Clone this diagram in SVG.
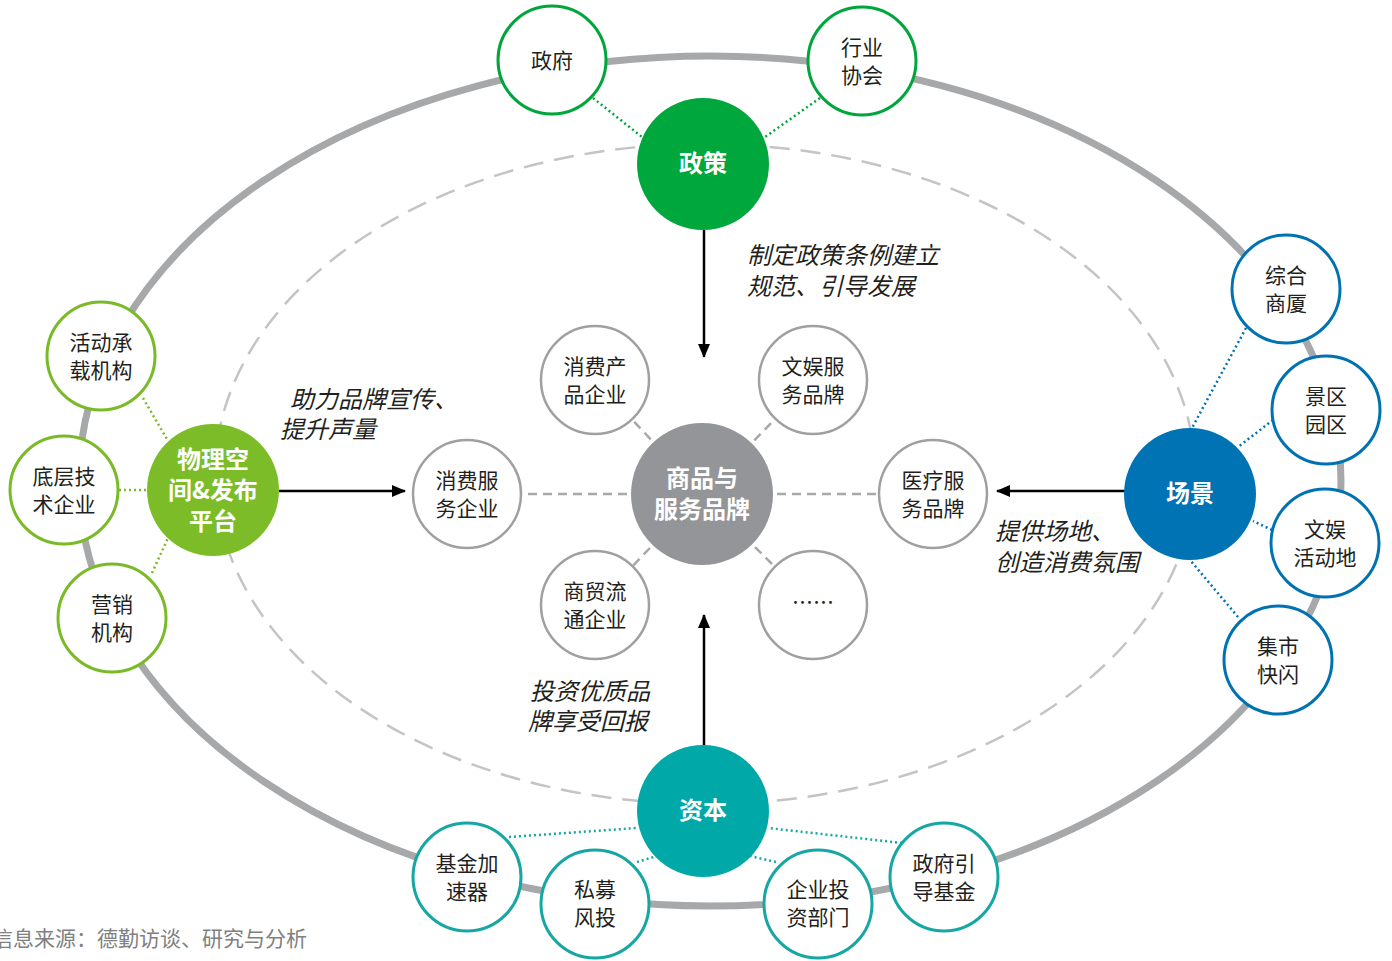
<svg xmlns="http://www.w3.org/2000/svg" width="1392" height="961" viewBox="0 0 1392 961">
<style>
.t{font-family:"Noto Sans CJK SC","Noto Sans",sans-serif;font-size:21px;fill:#231f20;text-anchor:middle}
.b{font-family:"Noto Sans CJK SC","Noto Sans",sans-serif;font-size:24px;font-weight:bold;fill:#ffffff;text-anchor:middle}
.i{font-family:"Noto Sans CJK SC","Noto Sans",sans-serif;font-size:24px;font-style:italic;fill:#231f20}
.g{fill:#fff;stroke:#00a63c;stroke-width:3}
.l{fill:#fff;stroke:#7aba28;stroke-width:3}
.u{fill:#fff;stroke:#0072b2;stroke-width:3}
.c{fill:#fff;stroke:#16a6a3;stroke-width:3}
.s{fill:#fff;stroke:#a0a0a2;stroke-width:2.5}
.dot{stroke-width:2.5;stroke-dasharray:2 3;fill:none}
.dash{stroke:#a7a8aa;stroke-width:2.5;stroke-dasharray:9 6;fill:none}
.arr{stroke:#000;stroke-width:2.5;fill:none;marker-end:url(#ah)}
</style>
<defs>
<marker id="ah" markerWidth="14" markerHeight="12" refX="13" refY="6" orient="auto" markerUnits="userSpaceOnUse">
<path d="M0,0 L14,6 L0,12 Z" fill="#000"/>
</marker>
</defs>
<rect width="1392" height="961" fill="#fff"/>
<ellipse cx="710" cy="481" rx="631" ry="425" fill="none" stroke="#a7a8aa" stroke-width="7"/>
<ellipse cx="705" cy="474" rx="490" ry="330" fill="none" stroke="#c4c4c6" stroke-width="2.5" stroke-dasharray="20 11"/>
<g id="connectors">
<line class="dot" stroke="#00a63c" x1="593" y1="98" x2="642" y2="137"/>
<line class="dot" stroke="#00a63c" x1="820" y1="98" x2="765" y2="137"/>
<line class="dot" stroke="#7aba28" x1="143" y1="398" x2="168" y2="441"/>
<line class="dot" stroke="#7aba28" x1="119" y1="490" x2="148" y2="490"/>
<line class="dot" stroke="#7aba28" x1="152" y1="573" x2="168" y2="538"/>
<line class="dot" stroke="#0072b2" x1="1246" y1="328" x2="1192" y2="428"/>
<line class="dot" stroke="#0072b2" x1="1273" y1="420" x2="1238" y2="447"/>
<line class="dot" stroke="#0072b2" x1="1272" y1="530" x2="1253" y2="521"/>
<line class="dot" stroke="#0072b2" x1="1238" y1="617" x2="1190" y2="560"/>
<line class="dot" stroke="#16a6a3" x1="509" y1="837" x2="637" y2="828"/>
<line class="dot" stroke="#16a6a3" x1="637" y1="862" x2="657" y2="856"/>
<line class="dot" stroke="#16a6a3" x1="776" y1="862" x2="750" y2="856"/>
<line class="dot" stroke="#16a6a3" x1="902" y1="843" x2="768" y2="828"/>
<line class="dash" x1="702" y1="494" x2="467" y2="494"/>
<line class="dash" x1="702" y1="494" x2="933" y2="494"/>
<line class="dash" x1="702" y1="494" x2="595" y2="380"/>
<line class="dash" x1="702" y1="494" x2="813" y2="380"/>
<line class="dash" x1="702" y1="494" x2="595" y2="605"/>
<line class="dash" x1="702" y1="494" x2="813" y2="605"/>
<line class="arr" x1="704" y1="230" x2="704" y2="357"/>
<line class="arr" x1="704" y1="745" x2="704" y2="615"/>
<line class="arr" x1="279" y1="491" x2="405" y2="491"/>
<line class="arr" x1="1125" y1="491" x2="997" y2="491"/>
</g>
<g id="n-zhengfu"><circle class="g" cx="552" cy="60" r="54"/><text class="t" x="552" y="68">政府</text></g>
<g id="n-hangye"><circle class="g" cx="862" cy="61" r="54"/><text class="t" x="862" y="55">行业</text><text class="t" x="862" y="83">协会</text></g>
<g id="n-zhengce"><circle cx="703" cy="164" r="66" fill="#00a73c"/><text class="b" x="703" y="172">政策</text></g>
<g id="n-huodong"><circle class="l" cx="101" cy="356" r="54"/><text class="t" x="101" y="350">活动承</text><text class="t" x="101" y="378">载机构</text></g>
<g id="n-diceng"><circle class="l" cx="64" cy="490" r="54"/><text class="t" x="64" y="484">底层技</text><text class="t" x="64" y="512">术企业</text></g>
<g id="n-yingxiao"><circle class="l" cx="112" cy="618" r="54"/><text class="t" x="112" y="612">营销</text><text class="t" x="112" y="640">机构</text></g>
<g id="n-wuli"><circle cx="213" cy="490" r="66" fill="#7cbc29"/><text class="b" x="213" y="468">物理空</text><text class="b" x="213" y="499">间&amp;发布</text><text class="b" x="213" y="530">平台</text></g>
<g id="n-zonghe"><circle class="u" cx="1286" cy="289" r="54"/><text class="t" x="1286" y="283">综合</text><text class="t" x="1286" y="311">商厦</text></g>
<g id="n-jingqu"><circle class="u" cx="1326" cy="410" r="54"/><text class="t" x="1326" y="404">景区</text><text class="t" x="1326" y="432">园区</text></g>
<g id="n-wenyu-act"><circle class="u" cx="1325" cy="543" r="54"/><text class="t" x="1325" y="537">文娱</text><text class="t" x="1325" y="565">活动地</text></g>
<g id="n-jishi"><circle class="u" cx="1278" cy="660" r="54"/><text class="t" x="1278" y="654">集市</text><text class="t" x="1278" y="682">快闪</text></g>
<g id="n-changjing"><circle cx="1190" cy="494" r="66" fill="#0073b5"/><text class="b" x="1190" y="502">场景</text></g>
<g id="n-ziben"><circle cx="703" cy="811" r="66" fill="#00a9a8"/><text class="b" x="703" y="819">资本</text></g>
<g id="n-jijin"><circle class="c" cx="467" cy="877" r="54"/><text class="t" x="467" y="871">基金加</text><text class="t" x="467" y="899">速器</text></g>
<g id="n-simu"><circle class="c" cx="595" cy="904" r="54"/><text class="t" x="595" y="897">私募</text><text class="t" x="595" y="925">风投</text></g>
<g id="n-qiye"><circle class="c" cx="818" cy="904" r="54"/><text class="t" x="818" y="897">企业投</text><text class="t" x="818" y="925">资部门</text></g>
<g id="n-yindao"><circle class="c" cx="944" cy="877" r="54"/><text class="t" x="944" y="871">政府引</text><text class="t" x="944" y="899">导基金</text></g>
<g id="n-center"><circle cx="702" cy="494" r="71" fill="#939598"/><text class="b" x="702" y="487">商品与</text><text class="b" x="702" y="518">服务品牌</text></g>
<g id="n-xfcp"><circle class="s" cx="595" cy="380" r="54"/><text class="t" x="595" y="374">消费产</text><text class="t" x="595" y="402">品企业</text></g>
<g id="n-wyfw"><circle class="s" cx="813" cy="380" r="54"/><text class="t" x="813" y="374">文娱服</text><text class="t" x="813" y="402">务品牌</text></g>
<g id="n-xffw"><circle class="s" cx="467" cy="494" r="54"/><text class="t" x="467" y="488">消费服</text><text class="t" x="467" y="516">务企业</text></g>
<g id="n-ylfw"><circle class="s" cx="933" cy="494" r="54"/><text class="t" x="933" y="488">医疗服</text><text class="t" x="933" y="516">务品牌</text></g>
<g id="n-smlt"><circle class="s" cx="595" cy="605" r="54"/><text class="t" x="595" y="599">商贸流</text><text class="t" x="595" y="627">通企业</text></g>
<g id="n-more"><circle class="s" cx="813" cy="605" r="54"/><text class="t" x="813" y="610">……</text></g>
<g id="labels">
<text class="i" x="747" y="264">制定政策条例建立</text>
<text class="i" x="747" y="295">规范、引导发展</text>
<text class="i" x="290" y="408">助力品牌宣传、</text>
<text class="i" x="280" y="438">提升声量</text>
<text class="i" x="995" y="540">提供场地、</text>
<text class="i" x="995" y="571">创造消费氛围</text>
<text class="i" x="530" y="700">投资优质品</text>
<text class="i" x="528" y="730">牌享受回报</text>
</g>
<text x="-8" y="946" font-family="Noto Sans CJK SC, sans-serif" font-size="21" fill="#808080">信息来源：德勤访谈、研究与分析</text>
</svg>
